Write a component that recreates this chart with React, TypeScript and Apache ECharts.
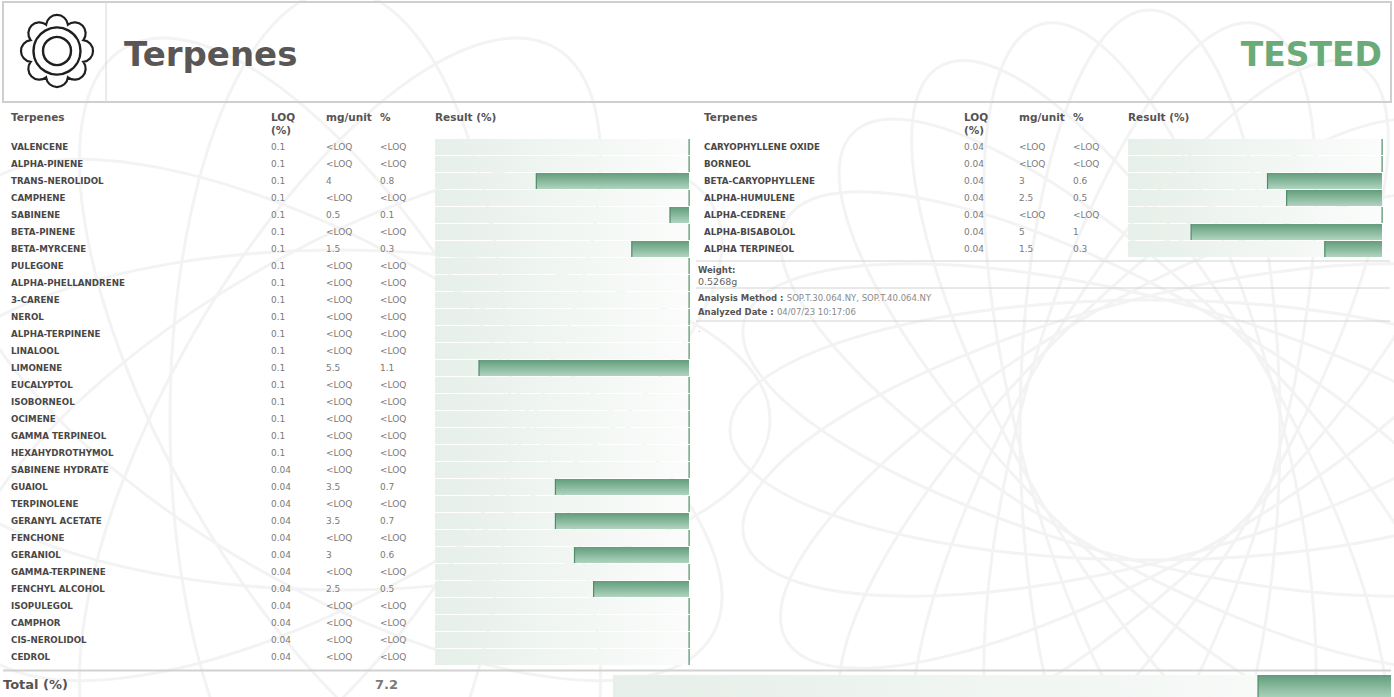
import React, { useEffect, useRef } from "react";
import * as echarts from "echarts";

// ---------- DATA ----------
const leftNames = [
  "VALENCENE", "ALPHA-PINENE", "TRANS-NEROLIDOL", "CAMPHENE", "SABINENE", "BETA-PINENE",
  "BETA-MYRCENE", "PULEGONE", "ALPHA-PHELLANDRENE", "3-CARENE", "NEROL", "ALPHA-TERPINENE",
  "LINALOOL", "LIMONENE", "EUCALYPTOL", "ISOBORNEOL", "OCIMENE", "GAMMA TERPINEOL",
  "HEXAHYDROTHYMOL", "SABINENE HYDRATE", "GUAIOL", "TERPINOLENE", "GERANYL ACETATE",
  "FENCHONE", "GERANIOL", "GAMMA-TERPINENE", "FENCHYL ALCOHOL", "ISOPULEGOL", "CAMPHOR",
  "CIS-NEROLIDOL", "CEDROL",
];
const leftLoq = [
  "0.1", "0.1", "0.1", "0.1", "0.1", "0.1", "0.1", "0.1", "0.1", "0.1", "0.1", "0.1", "0.1",
  "0.1", "0.1", "0.1", "0.1", "0.1", "0.1", "0.04", "0.04", "0.04", "0.04", "0.04", "0.04",
  "0.04", "0.04", "0.04", "0.04", "0.04", "0.04",
];
const leftMg = [
  null, null, 4, null, 0.5, null, 1.5, null, null, null, null, null, null, 5.5, null, null,
  null, null, null, null, 3.5, null, 3.5, null, 3, null, 2.5, null, null, null, null,
];
const leftPct = [
  null, null, 0.8, null, 0.1, null, 0.3, null, null, null, null, null, null, 1.1, null, null,
  null, null, null, null, 0.7, null, 0.7, null, 0.6, null, 0.5, null, null, null, null,
];

const rightNames = [
  "CARYOPHYLLENE OXIDE", "BORNEOL", "BETA-CARYOPHYLLENE", "ALPHA-HUMULENE",
  "ALPHA-CEDRENE", "ALPHA-BISABOLOL", "ALPHA TERPINEOL",
];
const rightLoq = ["0.04", "0.04", "0.04", "0.04", "0.04", "0.04", "0.04"];
const rightMg = [null, null, 3, 2.5, null, 5, 1.5];
const rightPct = [null, null, 0.6, 0.5, null, 1, 0.3];

const totalLabel = "Total (%)";
const totalValue = 7.2;

const weightValue = "0.5268g";
const analysisMethod = "SOP.T.30.064.NY, SOP.T.40.064.NY";
const analyzedDate = "04/07/23 10:17:06";

const XMAX = 1.33;
const TOTAL_MAX = 42.1;

// ---------- STYLE ----------
const FONT = "DejaVu Sans";
const NAME_COLOR = "#4a4747";
const VAL_COLOR = "#7a7a7a";
const HEAD_COLOR = "#575353";
const LINE_COLOR = "#d2d2d2";

const fmt = (v: number | null) => (v == null ? "<LOQ" : String(v));

function scallopPath(cx: number, cy: number, R0: number, r: number, n: number) {
  const half = Math.PI / n;
  const m = R0 * Math.cos(half);
  const hc = R0 * Math.sin(half);
  const rc = m + Math.sqrt(r * r - hc * hc);
  let d = "";
  for (let i = 0; i < n; i++) {
    const a0 = (i * 2 * Math.PI) / n - half - Math.PI / 2;
    const a1 = a0 + 2 * half;
    const x0 = cx + rc * Math.cos(a0);
    const y0 = cy + rc * Math.sin(a0);
    const x1 = cx + rc * Math.cos(a1);
    const y1 = cy + rc * Math.sin(a1);
    if (i === 0) d += `M${x0.toFixed(2)} ${y0.toFixed(2)}`;
    d += ` A${r} ${r} 0 0 1 ${x1.toFixed(2)} ${y1.toFixed(2)}`;
  }
  return d + " Z";
}

let logoRegistered = false;

export default function App() {
  const ref = useRef<HTMLDivElement>(null);

  useEffect(() => {
    if (!ref.current) return;
    if (!logoRegistered) {
      echarts.graphic.registerShape(
        "logo",
        echarts.graphic.extendPath(scallopPath(0, 0, 25, 11, 8), {})
      );
      logoRegistered = true;
    }
    const chart = echarts.init(ref.current, undefined, { renderer: "svg" });

    const trackGrad = () =>
      new echarts.graphic.LinearGradient(0, 0, 1, 0, [
        { offset: 0, color: "#e6efe9" },
        { offset: 1, color: "#fbfcfb" },
      ]);
    const barGrad = () =>
      new echarts.graphic.LinearGradient(0, 0, 0, 1, [
        { offset: 0, color: "#629d7b" },
        { offset: 1, color: "#afd4bf" },
      ]);

    const makeRender = (xMax: number, trackH: number, barH: number, dy: number) =>
      (params: any, api: any) => {
        const v = api.value(0);
        const ci = api.value(1);
        const p0 = api.coord([0, ci]);
        const p1 = api.coord([v, ci]);
        const pm = api.coord([xMax, ci]);
        const right = p0[0];
        const left = pm[0];
        const cy = p0[1] + dy;
        return {
          type: "group",
          children: [
            {
              type: "rect",
              shape: { x: left, y: cy - trackH / 2, width: right - left, height: trackH },
              style: { fill: trackGrad() },
            },
            {
              type: "rect",
              shape: { x: p1[0], y: cy - barH / 2, width: right - p1[0], height: barH },
              style: { fill: barGrad() },
            },
            {
              type: "rect",
              shape: { x: p1[0] - 0.5, y: cy - barH / 2, width: 1.2, height: barH },
              style: { fill: "#4f8d69" },
            },
          ],
        };
      };

    const nameStyle = { color: NAME_COLOR, fontFamily: FONT, fontWeight: "bold", fontSize: 8.7 };
    const valStyle = { color: VAL_COLOR, fontFamily: FONT, fontSize: 9 };

    const mkY = (gridIndex: number, names: string[], formatter: any, margin: number, style: any) => ({
      type: "category",
      gridIndex,
      data: names,
      inverse: true,
      position: "left",
      axisLine: { show: false },
      axisTick: { show: false },
      splitLine: { show: false },
      axisLabel: { interval: 0, margin, align: "left", formatter, ...style },
    });

    const mkX = (gridIndex: number, max: number) => ({
      type: "value",
      gridIndex,
      min: 0,
      max,
      inverse: true,
      show: false,
    });

    const panelAxes = (gi: number, names: string[], loq: string[], mg: any[], pct: any[]) => [
      mkY(gi, names, (v: string) => v, 424, nameStyle),
      mkY(gi, names, (_v: string, i: number) => loq[i], 164, valStyle),
      mkY(gi, names, (_v: string, i: number) => fmt(mg[i]), 109, valStyle),
      mkY(gi, names, (_v: string, i: number) => fmt(pct[i]), 55, valStyle),
    ];

    const yAxes = [
      ...panelAxes(0, leftNames, leftLoq, leftMg, leftPct),
      ...panelAxes(1, rightNames, rightLoq, rightMg, rightPct),
      mkY(2, [totalLabel], (v: string) => v, 610, {
        color: HEAD_COLOR, fontFamily: FONT, fontWeight: "bold", fontSize: 13,
      }),
      mkY(2, [totalLabel], () => String(totalValue), 238, {
        color: VAL_COLOR, fontFamily: FONT, fontWeight: "bold", fontSize: 13,
      }),
    ];

    const headerTexts = (x0: number, tx: number) => {
      const st = { fill: HEAD_COLOR, fontFamily: FONT, fontWeight: "bold", fontSize: 10.5, verticalAlign: "middle" };
      return [
        { type: "text", x: x0, y: 117, style: { text: "Terpenes", ...st } },
        { type: "text", x: tx, y: 117, style: { text: "LOQ", ...st } },
        { type: "text", x: tx, y: 130, style: { text: "(%)", ...st } },
        { type: "text", x: tx + 55, y: 117, style: { text: "mg/unit", ...st } },
        { type: "text", x: tx + 109, y: 117, style: { text: "%", ...st } },
        { type: "text", x: tx + 164, y: 117, style: { text: "Result (%)", ...st } },
      ];
    };

    const watermark: any[] = [];
    for (let i = 0; i < 12; i++) {
      watermark.push({
        type: "ellipse",
        x: 1150,
        y: 430,
        rotation: (i * Math.PI) / 12,
        shape: { cx: 0, cy: 0, rx: 420, ry: 130 },
        style: { fill: "none", stroke: "#f3f3f3", lineWidth: 3 },
        silent: true,
        z: -10,
      });
    }
    for (let i = 0; i < 6; i++) {
      watermark.push({
        type: "ellipse",
        x: 340,
        y: 420,
        rotation: (i * Math.PI) / 6,
        shape: { cx: 0, cy: 0, rx: 430, ry: 170 },
        style: { fill: "none", stroke: "#f3f3f3", lineWidth: 3 },
        silent: true,
        z: -10,
      });
    }

    const hline = (x1: number, x2: number, y: number, w = 1) => ({
      type: "line",
      shape: { x1, y1: y, x2, y2: y },
      style: { stroke: LINE_COLOR, lineWidth: w },
    });

    const option: any = {
      animation: false,
      backgroundColor: "#ffffff",
      textStyle: { fontFamily: FONT },
      grid: [
        { left: 435, top: 138.5, width: 254, height: 527, outerBoundsMode: "none" },
        { left: 1128, top: 138.5, width: 254, height: 119, outerBoundsMode: "none" },
        { left: 613, top: 672, width: 778, height: 24, outerBoundsMode: "none" },
      ],
      xAxis: [mkX(0, XMAX), mkX(1, XMAX), mkX(2, TOTAL_MAX)],
      yAxis: yAxes,
      series: [
        {
          type: "custom",
          xAxisIndex: 0,
          yAxisIndex: 0,
          encode: { x: 0, y: 1 },
          renderItem: makeRender(XMAX, 16, 16, 0),
          data: leftPct.map((v, i) => [v ?? 0, i]),
        },
        {
          type: "custom",
          xAxisIndex: 1,
          yAxisIndex: 4,
          encode: { x: 0, y: 1 },
          renderItem: makeRender(XMAX, 16, 16, 0),
          data: rightPct.map((v, i) => [v ?? 0, i]),
        },
        {
          type: "custom",
          xAxisIndex: 2,
          yAxisIndex: 8,
          encode: { x: 0, y: 1 },
          renderItem: makeRender(TOTAL_MAX, 24, 24, 3),
          data: [[totalValue, 0]],
        },
      ],
      graphic: [
        ...watermark,
        {
          type: "rect",
          shape: { x: 3, y: 2, width: 1388, height: 100 },
          style: { fill: "none", stroke: "#cfcfcf", lineWidth: 2 },
        },
        {
          type: "line",
          shape: { x1: 106, y1: 2, x2: 106, y2: 102 },
          style: { stroke: "#d6d6d6", lineWidth: 1 },
        },
        {
          type: "logo",
          x: 57,
          y: 51,
          style: { fill: "#ffffff", stroke: "#1f1f1f", lineWidth: 2.2 },
        },
        {
          type: "circle",
          shape: { cx: 57, cy: 51, r: 23.5 },
          style: { fill: "none", stroke: "#1f1f1f", lineWidth: 2.4 },
        },
        {
          type: "circle",
          shape: { cx: 57, cy: 51, r: 14 },
          style: { fill: "none", stroke: "#1f1f1f", lineWidth: 2.4 },
        },
        {
          type: "text",
          x: 124,
          y: 54,
          style: {
            text: "Terpenes", fill: "#5b5656", fontFamily: FONT, fontWeight: "bold",
            fontSize: 34, verticalAlign: "middle",
          },
        },
        {
          type: "text",
          x: 1382,
          y: 54,
          style: {
            text: "TESTED", fill: "#6aab78", fontFamily: FONT, fontWeight: "bold",
            fontSize: 33, align: "right", verticalAlign: "middle",
          },
        },
        ...headerTexts(11, 271),
        ...headerTexts(704, 964),
        hline(696, 1390, 261),
        hline(696, 1390, 288),
        hline(696, 1390, 321),
        hline(3, 1391, 670.5, 2),
        {
          type: "text", x: 698, y: 270,
          style: { text: "Weight:", fill: HEAD_COLOR, fontFamily: FONT, fontWeight: "bold", fontSize: 8.5, verticalAlign: "middle" },
        },
        {
          type: "text", x: 698, y: 281,
          style: { text: weightValue, fill: "#666", fontFamily: FONT, fontSize: 9.5, verticalAlign: "middle" },
        },
        {
          type: "text", x: 698, y: 298,
          style: {
            text: `{b|Analysis Method :} {n|${analysisMethod}}`,
            verticalAlign: "middle",
            rich: {
              b: { fill: HEAD_COLOR, fontFamily: FONT, fontWeight: "bold", fontSize: 8.5 },
              n: { fill: "#8a8a8a", fontFamily: FONT, fontSize: 8.5 },
            },
          },
        },
        {
          type: "text", x: 698, y: 312,
          style: {
            text: `{b|Analyzed Date :} {n|${analyzedDate}}`,
            verticalAlign: "middle",
            rich: {
              b: { fill: HEAD_COLOR, fontFamily: FONT, fontWeight: "bold", fontSize: 8.5 },
              n: { fill: "#8a8a8a", fontFamily: FONT, fontSize: 8.5 },
            },
          },
        },
        {
          type: "text", x: 698, y: 329,
          style: { text: ".", fill: "#aaa", fontFamily: FONT, fontSize: 8, verticalAlign: "middle" },
        },
      ],
    };

    chart.setOption(option);
    return () => chart.dispose();
  }, []);

  return (
    <div
      ref={ref}
      style={{ position: "absolute", left: 0, top: 0, width: 1394, height: 697 }}
    />
  );
}
